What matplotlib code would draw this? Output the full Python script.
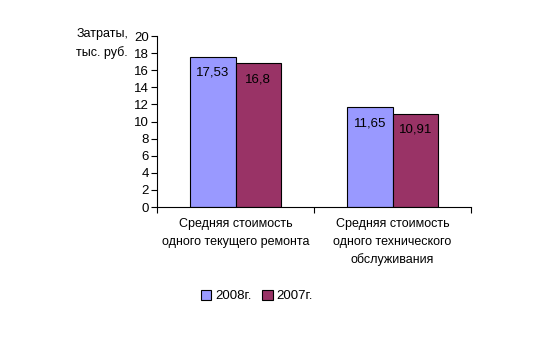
import matplotlib
matplotlib.use("Agg")
import matplotlib.pyplot as plt
import numpy as np

categories = ["Средняя стоимость\nодного текущего ремонта",
              "Средняя стоимость\nодного технического\nобслуживания"]
series_names = ["2008г.", "2007г."]
values_2008 = [17.53, 11.65]
values_2007 = [16.8, 10.91]
labels_2008 = ["17,53", "11,65"]
labels_2007 = ["16,8", "10,91"]
yticks = [0, 2, 4, 6, 8, 10, 12, 14, 16, 18, 20]

plt.rcParams['font.family'] = ['Liberation Sans', 'DejaVu Sans']
fs = 9

fig = plt.figure(figsize=(5.45, 3.57), dpi=100)
ax = fig.add_axes([157/545, 1-207/357, 314/545, 171/357])

x = np.arange(len(categories))
w = 0.29
c1, c2 = "#9999FF", "#993366"
b1 = ax.bar(x - w/2, values_2008, w, color=c1, edgecolor="black", linewidth=0.8, label=series_names[0])
b2 = ax.bar(x + w/2, values_2007, w, color=c2, edgecolor="black", linewidth=0.8, label=series_names[1])
for rect, lab in zip(b1, labels_2008):
    ax.text(rect.get_x() + rect.get_width()/2, rect.get_height() - 1.85, lab,
            ha="center", va="center", fontsize=9.5)
for rect, lab in zip(b2, labels_2007):
    ax.text(rect.get_x() + rect.get_width()/2, rect.get_height() - 1.85, lab,
            ha="center", va="center", fontsize=9.5)

ax.set_xlim(-0.5, 1.5)
ax.set_ylim(0, 20)
ax.set_yticks(yticks)
ax.set_yticklabels([str(t) for t in yticks], fontsize=9.5)
ax.set_xticks([-0.5, 0.5, 1.5])
ax.set_xticklabels([])
ax.set_xticks(x, minor=True)
ax.set_xticklabels(categories, minor=True, fontsize=fs, linespacing=1.6)
ax.tick_params(axis="x", which="minor", length=0, pad=8)
ax.tick_params(axis="x", which="major", length=4, direction="out")
ax.tick_params(axis="y", length=4, direction="out", pad=2)
for s in ["top", "right"]:
    ax.spines[s].set_visible(False)

fig.text(128/545, 1-28/357, "Затраты,\nтыс. руб.", ha="right", va="top", fontsize=fs, linespacing=1.6)

fig.legend(handles=[b1, b2], labels=series_names, loc="center", bbox_to_anchor=(257/545, 1-296/357),
           ncol=2, frameon=False, fontsize=9.5, handlelength=0.8, handleheight=0.8,
           handletextpad=0.3, columnspacing=0.8)

fig.savefig("out.png", dpi=100)
